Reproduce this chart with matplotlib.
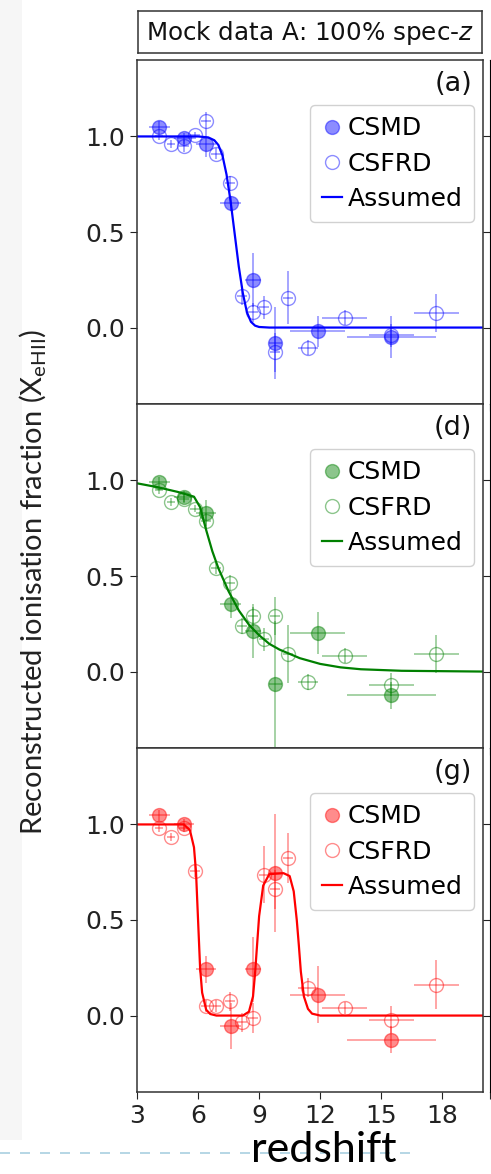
import matplotlib
matplotlib.use("Agg")
from matplotlib import pyplot as plt
from matplotlib.lines import Line2D
from matplotlib.patches import Rectangle

# redshift bins
csmd_z = [4.1, 5.3, 6.4, 7.6, 8.7, 9.8, 11.9, 15.5]
csmd_zerr = [[0.5, 0.5, 0.5, 0.5, 0.4, 0.3, 1.4, 2.2],
             [0.5, 0.5, 0.5, 0.5, 0.4, 0.3, 1.3, 2.2]]
csfrd_z = [4.1, 4.65, 5.3, 5.85, 6.4, 6.9, 7.55, 8.15, 8.7, 9.25, 9.8, 10.4,
           11.4, 13.2, 15.5, 17.7]
csfrd_zerr = [0.2, 0.2, 0.25, 0.25, 0.25, 0.25, 0.25, 0.25, 0.25, 0.25, 0.25,
              0.25, 0.5, 1.1, 1.1, 1.1]

# panel (a)
csmd_a = [1.05, 0.99, 0.96, 0.65, 0.25, -0.08, -0.02, -0.05]
csmd_err_a = [0.03, 0.03, 0.07, 0.04, 0.14, 0.19, 0.08, 0.11]
csfrd_a = [1.0, 0.96, 0.95, 1.005, 1.08, 0.91, 0.755, 0.166, 0.08, 0.105,
           -0.13, 0.157, -0.105, 0.052, -0.04, 0.075]
csfrd_err_a = [0.02, 0.02, 0.03, 0.02, 0.05, 0.03, 0.04, 0.05, 0.05, 0.06,
               0.1, 0.14, 0.04, 0.04, 0.06, 0.1]
model_z_a = [3.0, 6.0, 6.5, 6.8, 7.0, 7.2, 7.4, 7.6, 7.8, 8.0, 8.2, 8.4, 8.6,
             8.8, 9.0, 9.5, 20.0]
model_a = [1.0, 1.0, 0.995, 0.98, 0.955, 0.9, 0.8, 0.66, 0.49, 0.32, 0.18,
           0.08, 0.03, 0.01, 0.003, 0.0, 0.0]

# panel (d)
csmd_d = [0.99, 0.913, 0.83, 0.351, 0.213, -0.064, 0.204, -0.125]
csmd_err_d = [0.03, 0.03, 0.07, 0.07, 0.14, 0.33, 0.11, 0.07]
csfrd_d = [0.948, 0.887, 0.905, 0.853, 0.79, 0.54, 0.464, 0.239, 0.29, 0.17,
           0.29, 0.092, -0.055, 0.083, -0.069, 0.092]
csfrd_err_d = [0.02, 0.02, 0.02, 0.02, 0.04, 0.03, 0.04, 0.04, 0.05, 0.06,
               0.1, 0.15, 0.04, 0.04, 0.06, 0.1]
model_z_d = [3.0, 4.0, 5.0, 5.8, 6.1, 6.4, 6.7, 7.0, 7.5, 8.0, 8.5, 9.0, 9.5,
             10.0, 11.0, 12.0, 13.0, 14.0, 16.0, 20.0]
model_d = [0.985, 0.965, 0.94, 0.915, 0.86, 0.74, 0.63, 0.54, 0.42, 0.32,
           0.245, 0.19, 0.145, 0.115, 0.07, 0.04, 0.022, 0.012, 0.004, 0.0]

# panel (g)
csmd_g = [1.047, 1.0, 0.241, -0.056, 0.241, 0.747, 0.11, -0.126]
csmd_err_g = [0.03, 0.03, 0.07, 0.12, 0.17, 0.31, 0.15, 0.07]
csfrd_g = [0.983, 0.935, 0.983, 0.756, 0.049, 0.049, 0.075, -0.035, -0.012,
           0.738, 0.66, 0.825, 0.145, 0.04, -0.021, 0.162]
csfrd_err_g = [0.02, 0.02, 0.02, 0.03, 0.03, 0.03, 0.05, 0.05, 0.08, 0.15,
               0.1, 0.13, 0.05, 0.03, 0.07, 0.13]
model_z_g = [3.0, 5.3, 5.6, 5.8, 5.9, 6.0, 6.1, 6.2, 6.4, 6.6, 6.9, 8.2, 8.5,
             8.7, 8.8, 8.9, 9.0, 9.2, 9.5, 10.2, 10.5, 10.7, 10.85, 10.95,
             11.05, 11.2, 11.4, 11.6, 12.0, 20.0]
model_g = [1.0, 1.0, 0.97, 0.88, 0.75, 0.5, 0.25, 0.12, 0.03, 0.008, 0.0, 0.0,
           0.02, 0.1, 0.22, 0.37, 0.52, 0.68, 0.74, 0.745, 0.73, 0.65, 0.5,
           0.37, 0.23, 0.1, 0.035, 0.01, 0.0, 0.0]

panels = [
    ("(a)", "blue", csmd_a, csmd_err_a, csfrd_a, csfrd_err_a, model_z_a, model_a),
    ("(d)", "green", csmd_d, csmd_err_d, csfrd_d, csfrd_err_d, model_z_d, model_d),
    ("(g)", "red", csmd_g, csmd_err_g, csfrd_g, csfrd_err_g, model_z_g, model_g),
]

plt.rcParams['mathtext.fontset'] = 'custom'
plt.rcParams['mathtext.rm'] = 'Lato'
plt.rcParams['mathtext.it'] = 'DejaVu Sans:italic'

fs = 18
fig = plt.figure(figsize=(4.91, 11.74), dpi=100)

# slide decorations
fig.add_artist(Rectangle((0, 1 - 1140 / 1174), 22 / 491, 1140 / 1174,
                         transform=fig.transFigure, color="#f6f6f6", lw=0))
fig.add_artist(Line2D([0, 410 / 491], [1 - 1153 / 1174] * 2,
                      transform=fig.transFigure, color="#a9cfe0", lw=1.2,
                      ls=(0, (6, 6))))

left, width = 137 / 491, 346 / 491
top, bottom = 1 - 60 / 1174, 1 - 1092 / 1174
h = (top - bottom) / 3

for i, (tag, col, cy, cye, fy, fye, mz, my) in enumerate(panels):
    ax = fig.add_axes([left, top - (i + 1) * h, width, h])
    ax.errorbar(csmd_z, cy, xerr=csmd_zerr, yerr=cye, fmt='o', color=col,
                ms=10, alpha=0.45, elinewidth=1.1, capsize=0)
    ax.errorbar(csfrd_z, fy, xerr=csfrd_zerr, yerr=fye, fmt='o', color=col,
                mfc='none', ms=10, mew=1.0, alpha=0.45, elinewidth=1.1,
                capsize=0)
    ax.plot(mz, my, color=col, lw=1.6)
    ax.set_xlim(3, 20)
    ax.set_ylim(-0.4, 1.4)
    ax.set_xticks([3, 6, 9, 12, 15, 18])
    ax.set_yticks([0.0, 0.5, 1.0])
    ax.tick_params(labelsize=fs, length=5, colors="#222222")
    for s in ax.spines.values():
        s.set_color("#333333")
        s.set_linewidth(1.1)
    if i < 2:
        ax.tick_params(labelbottom=False)
    ax.text(0.968, 0.968, tag, transform=ax.transAxes, ha='right', va='top',
            fontsize=19.5, color="#111111")
    handles = [
        Line2D([], [], ls='none', marker='o', ms=10, color=col, alpha=0.45),
        Line2D([], [], ls='none', marker='o', ms=10, mfc='none', mew=1.0,
               color=col, alpha=0.45),
        Line2D([], [], color=col, lw=1.6),
    ]
    ax.legend(handles, ["CSMD", "CSFRD", "Assumed"], loc='upper right',
              bbox_to_anchor=(0.974, 0.869), borderaxespad=0, fontsize=fs,
              handlelength=0.8, handletextpad=0.25, labelspacing=0.45,
              borderpad=0.45, framealpha=0.9)

# next column, cut off by the frame
for i in range(3):
    ax2 = fig.add_axes([490 / 491, top - (i + 1) * h, 0.7, h])
    ax2.set_xlim(3, 20)
    ax2.set_ylim(-0.4, 1.4)
    ax2.set_xticks([3, 6, 9, 12, 15, 18])
    ax2.set_yticks([0.0, 0.5, 1.0])
    ax2.tick_params(length=5, labelleft=False, labelbottom=False,
                    colors="#222222")

# title box
tax = fig.add_axes([138 / 491, 1 - 53 / 1174, 344 / 491, 42 / 1174])
tax.set_xticks([])
tax.set_yticks([])
for s in tax.spines.values():
    s.set_color("#333333")
    s.set_linewidth(1.1)
tax.text(0.5, 0.47, "Mock data A: 100% spec-$z$", transform=tax.transAxes,
         ha='center', va='center', fontsize=17.7, color="#111111")

fig.text(33 / 491, 1 - 582 / 1174,
         r"Reconstructed ionisation fraction (X$_{\mathrm{eHII}}$)",
         rotation=90, ha='center', va='center', fontsize=21,
         family='Lato', color="#222222")
fig.text(324 / 491, 1 - 1150 / 1174, "redshift", ha='center', va='center',
         fontsize=31, family='Lato', color="black")

plt.savefig("out.png", dpi=100)
